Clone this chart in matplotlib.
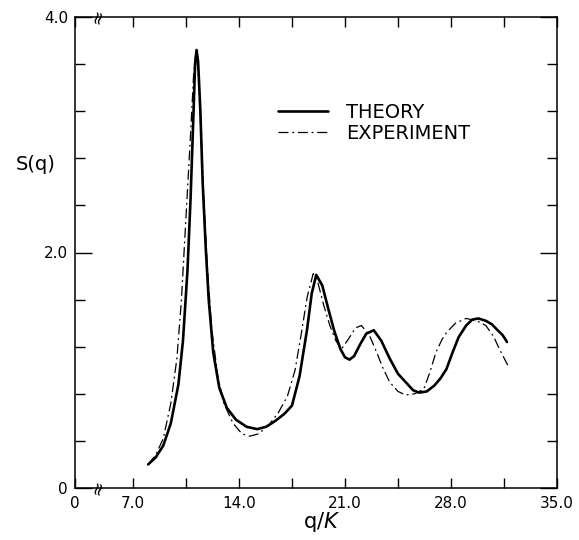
import numpy as np
import matplotlib
matplotlib.use('Agg')
import matplotlib.pyplot as plt
import matplotlib.transforms as mtransforms

# theory curve, S(q) vs q/K
q_theory = [8.0, 8.5, 9.0, 9.5, 10.0, 10.3, 10.6, 10.8, 11.0, 11.1, 11.2, 11.3,
            11.45, 11.6, 11.8, 12.0, 12.3, 12.7, 13.2, 13.8, 14.5, 15.2, 15.8,
            16.4, 17.0, 17.5, 18.0, 18.5, 18.8, 19.1, 19.5, 19.9, 20.3, 20.7,
            21.0, 21.3, 21.6, 22.0, 22.4, 22.9, 23.4, 23.95, 24.5, 25.0, 25.5,
            25.9, 26.4, 26.9, 27.3, 27.7, 28.1, 28.5, 29.0, 29.4, 29.8, 30.3,
            30.7, 31.0, 31.4, 31.7]
s_theory = [0.20, 0.26, 0.36, 0.55, 0.88, 1.25, 1.85, 2.45, 3.20, 3.60, 3.72, 3.62,
            3.20, 2.60, 2.05, 1.60, 1.15, 0.85, 0.68, 0.58, 0.52, 0.50, 0.52,
            0.57, 0.63, 0.70, 0.95, 1.35, 1.65, 1.81, 1.72, 1.52, 1.33, 1.18,
            1.11, 1.09, 1.12, 1.22, 1.31, 1.34, 1.25, 1.10, 0.97, 0.90, 0.83,
            0.81, 0.82, 0.87, 0.93, 1.01, 1.15, 1.28, 1.38, 1.43, 1.44, 1.42,
            1.39, 1.35, 1.30, 1.24]

# experiment curve
q_exp = [8.0, 8.5, 9.0, 9.5, 9.9, 10.2, 10.5, 10.8, 11.0, 11.15, 11.3, 11.5,
         11.7, 11.9, 12.2, 12.6, 13.0, 13.6, 14.2, 14.7, 15.3, 16.0, 16.6,
         17.2, 17.7, 18.1, 18.5, 18.9, 19.2, 19.6, 20.0, 20.4, 20.77, 21.2,
         21.7, 22.08, 22.6, 23.1, 23.5, 23.95, 24.5, 25.0, 25.6, 26.2, 26.6,
         27.0, 27.4, 27.7, 28.3, 29.0, 29.7, 30.3, 30.8, 31.2, 31.8]
s_exp = [0.20, 0.28, 0.42, 0.72, 1.10, 1.60, 2.30, 3.00, 3.50, 3.70, 3.55, 3.00,
         2.40, 1.90, 1.35, 0.95, 0.72, 0.55, 0.46, 0.44, 0.46, 0.54, 0.64,
         0.78, 1.00, 1.30, 1.62, 1.82, 1.75, 1.55, 1.38, 1.25, 1.18, 1.26,
         1.36, 1.38, 1.30, 1.15, 1.02, 0.90, 0.82, 0.79, 0.80, 0.84, 0.98,
         1.15, 1.26, 1.32, 1.40, 1.44, 1.42, 1.38, 1.29, 1.18, 1.03]

x_ticks = [0, 7, 14, 21, 28, 35]
x_ticklabels = ['0', '7.0', '14.0', '21.0', '28.0', '35.0']
y_ticks = [0, 2, 4]
y_ticklabels = ['0', '2.0', '4.0']

# broken x axis: 0..7 squeezed
K = 0.547
def fwd(x):
    x = np.asarray(x, dtype=float)
    return np.where(x >= 7, x, 7 - (7 - x) * K)

def inv(y):
    y = np.asarray(y, dtype=float)
    return np.where(y >= 7, y, 7 - (7 - y) / K)

plt.rcParams['font.family'] = 'DejaVu Sans'

fig = plt.figure(figsize=(5.79, 5.40), dpi=100)
ax = fig.add_axes([75 / 579, 1 - 488 / 540, 482 / 579, 471 / 540])
ax.set_xscale('function', functions=(fwd, inv))

ax.plot(q_theory, s_theory, color='black', lw=1.9, solid_capstyle='round',
        label='THEORY')
ax.plot(q_exp, s_exp, color='black', lw=0.9,
        linestyle=(0, (8, 3, 1.5, 3)), label='EXPERIMENT')

ax.set_xlim(0, 35)
ax.set_ylim(0, 4)

ax.set_xticks(x_ticks)
ax.set_xticklabels(x_ticklabels)
ax.set_xticks([10.5, 17.5, 24.5, 31.5], minor=True)
ax.set_yticks(y_ticks)
ax.set_yticklabels(y_ticklabels)
ax.set_yticks(np.arange(0.4, 4.0, 0.4), minor=True)

ax.tick_params(axis='both', which='both', direction='in', top=True, right=True,
               labelsize=11, width=1.0, color='black')
ax.tick_params(axis='x', which='both', length=7, pad=6)
ax.tick_params(axis='y', which='major', length=12, pad=5)
ax.tick_params(axis='y', which='minor', length=7)
for s in ax.spines.values():
    s.set_linewidth(1.1)

# axis break marks
trans = mtransforms.blended_transform_factory(ax.transData, ax.transAxes)
for yy in (0, 1):
    ax.text(2.8, yy, '\u2248', transform=trans, rotation=75, ha='center',
            va='center', fontsize=13, clip_on=False)

fig.text(36 / 579, 1 - 165 / 540, 'S(q)', fontsize=14, ha='center', va='center')
fig.text(322 / 579, 1 - 522 / 540, 'q/$K$', fontsize=15, ha='center', va='center')

ax.legend(loc='upper left', bbox_to_anchor=(268 / 579, 1 - 93 / 540),
          bbox_transform=fig.transFigure, frameon=False, fontsize=14,
          handlelength=2.6, handletextpad=0.9, labelspacing=0.1, borderpad=0)

plt.savefig('out.png', dpi=100)
